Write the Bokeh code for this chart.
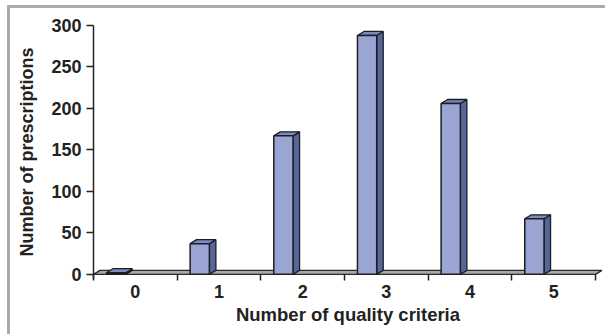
from bokeh.plotting import figure
from bokeh.models import Range1d, FixedTicker
from bokeh.embed import file_html
from bokeh.resources import INLINE

# ---- data ----
categories = ["0", "1", "2", "3", "4", "5"]
prescriptions = [2, 37, 167, 288, 206, 67]
y_ticks = [0, 50, 100, 150, 200, 250, 300]

# ---- style constants ----
FONT = "Liberation Sans"
FRONT = "#9ba5d4"
SIDE = "#56659c"
TOP = "#7d89c2"
EDGE = "#1e1e1e"
BAR_OFF = 0.155    # offset of the bar front face inside its category
BAR_W = 0.23       # width of the front face
DX = 0.078         # 3D depth (x, data units)
DY = 4.8           # 3D depth (y, data units)

n = len(categories)

p = figure(width=605, height=334, output_backend="svg", toolbar_location=None,
           x_range=Range1d(0, 6.084), y_range=Range1d(-5, 300),
           min_border_left=93, min_border_right=3, min_border_top=25,
           min_border_bottom=56)
p.outline_line_color = None
p.grid.visible = False
p.background_fill_color = "white"
p.border_fill_color = None
p.styles = {
    "background": ("linear-gradient(#ababab,#ababab) 7px 5px / 598px 3px no-repeat, "
                   "linear-gradient(#ababab,#ababab) 7px 5px / 3px 329px no-repeat, "
                   "#ffffff"),
}

# floor
p.patch([0, n, n + DX, DX], [0, 0, DY, DY], fill_color="#a8a8a8",
        line_color="#2a2a2a", line_width=1.3)

# bars
lefts = [i + BAR_OFF for i in range(n)]
rights = [l + BAR_W for l in lefts]
side_xs = [[r, r + DX, r + DX, r] for r in rights]
side_ys = [[0, DY, v + DY, v] for v in prescriptions]
top_xs = [[l, r, r + DX, l + DX] for l, r in zip(lefts, rights)]
top_ys = [[v, v, v + DY, v + DY] for v in prescriptions]

p.patches(side_xs, side_ys, fill_color=SIDE, line_color=EDGE, line_width=1.3)
p.patches(top_xs, top_ys, fill_color=TOP, line_color=EDGE, line_width=1.3)
p.quad(left=lefts, right=rights, bottom=0, top=prescriptions,
       fill_color=FRONT, line_color=EDGE, line_width=1.5)

# x axis: labels at category centres, tick marks at category boundaries
xa = p.xaxis[0]
xa.ticker = FixedTicker(ticks=[i + 0.5 for i in range(n)],
                        minor_ticks=list(range(n + 1)))
xa.major_label_overrides = {i + 0.5: c for i, c in enumerate(categories)}
xa.axis_line_color = None
xa.major_tick_line_color = None
xa.minor_tick_in = 4
xa.minor_tick_out = 2
xa.minor_tick_line_color = "#222222"
xa.minor_tick_line_width = 1.5
xa.major_label_standoff = 0
xa.axis_label = "Number of quality criteria"
xa.axis_label_standoff = 3

ya = p.yaxis[0]
ya.ticker = FixedTicker(ticks=y_ticks)
ya.minor_tick_line_color = None
ya.major_tick_in = 0
ya.major_tick_out = 7
ya.major_tick_line_width = 1.5
ya.major_tick_line_color = "#222222"
ya.axis_line_color = "#222222"
ya.axis_line_width = 1.5
ya.major_label_standoff = 5
ya.axis_label = "Number of prescriptions"
ya.axis_label_standoff = 11

for ax in (xa, ya):
    ax.major_label_text_font = FONT
    ax.major_label_text_font_style = "bold"
    ax.major_label_text_font_size = "18px"
    ax.major_label_text_color = "#222222"
    ax.axis_label_text_font = FONT
    ax.axis_label_text_font_style = "bold"
    ax.axis_label_text_color = "#222222"
xa.axis_label_text_font_size = "18.5px"
ya.axis_label_text_font_size = "18px"

open("out.html", "w").write(file_html(p, INLINE))
